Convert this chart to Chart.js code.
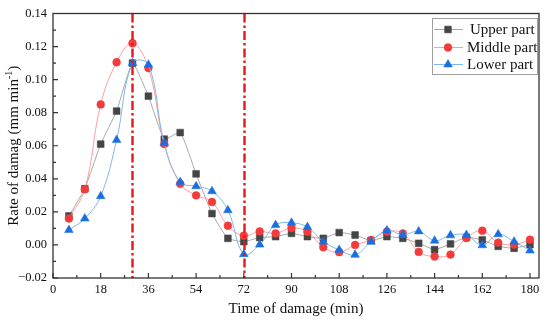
<!DOCTYPE html>
<html>
<head>
<meta charset="utf-8">
<script src="https://cdn.jsdelivr.net/npm/chart.js@4/dist/chart.umd.min.js"></script>
<style>
  html, body { margin: 0; padding: 0; background: #fff; }
  #wrap { width: 550px; height: 324px; }
</style>
</head>
<body>
<div id="wrap"><canvas id="c" width="550" height="324"></canvas></div>
<script>
// ---- data ----
const times = [6,12,18,24,30,36,42,48,54,60,66,72,78,84,90,96,102,108,114,120,126,132,138,144,150,156,162,168,174,180];
const upperPart = [0.0175,0.034,0.061,0.081,0.110,0.090,0.064,0.068,0.043,0.019,0.004,0.002,0.0045,0.005,0.007,0.005,0.004,0.0075,0.006,0.0026,0.005,0.004,0.001,-0.0028,0.0006,0.0046,0.003,-0.0008,-0.002,0.0002];
const middlePart = [0.016,0.0337,0.085,0.1105,0.122,0.107,0.061,0.037,0.030,0.026,0.0116,0.0056,0.0082,0.007,0.0102,0.008,-0.0014,-0.0044,0.0,0.003,0.008,0.007,-0.0042,-0.007,-0.0058,0.0042,0.0086,0.0014,0.0002,0.0032];
const lowerPart = [0.009,0.016,0.0295,0.0635,0.110,0.109,0.0615,0.038,0.0355,0.0325,0.021,-0.0056,0.0002,0.012,0.0134,0.0108,0.002,-0.003,-0.006,0.002,0.0088,0.006,0.0082,0.0026,0.0058,0.006,-0.0002,0.0064,0.002,-0.0034];
const seriesNames = ['Upper part','Middle part','Lower part'];
const xTickLabels = [0,18,36,54,72,90,108,126,144,162,180];
const yTickLabels = [-0.02,0.00,0.02,0.04,0.06,0.08,0.10,0.12,0.14];
const refLines = [30, 72];
const xTitle = 'Time of damage (min)';
const yTitleMain = 'Rate of damag (mm min';
const yTitleSup = '-1';
const yTitleEnd = ')';

const FONT = "'Liberation Serif', 'Times New Roman', serif";
Chart.defaults.font.family = FONT;

const styles = [
  {marker:'#454545', line:'#a8a8a8', pointStyle:'rect', radius:4.8, tension:0.15},
  {marker:'#f43b3b', line:'#ff9e9e', pointStyle:'circle', radius:3.9, tension:0.4},
  {marker:'#1a6fe0', line:'#80b6ee', pointStyle:'triangle', radius:5, tension:0.4}
];
const seriesData = [upperPart, middlePart, lowerPart];

const datasets = seriesData.map((arr, i) => ({
  label: seriesNames[i],
  data: arr.map((v, j) => ({x: times[j], y: v})),
  borderColor: styles[i].line,
  borderWidth: 1,
  backgroundColor: styles[i].marker,
  pointBackgroundColor: styles[i].marker,
  pointBorderColor: styles[i].marker,
  pointBorderWidth: 0.5,
  pointStyle: styles[i].pointStyle,
  pointRadius: styles[i].radius,
  pointHoverRadius: styles[i].radius,
  tension: styles[i].tension,
  order: 3 - i
}));

const decor = {
  id: 'decor',
  afterDatasetsDraw(chart) {
    const ctx = chart.ctx, xs = chart.scales.x, a = chart.chartArea;
    ctx.save();
    ctx.strokeStyle = '#e8161b';
    ctx.lineWidth = 2.4;
    ctx.setLineDash([9, 3, 2.5, 3]);
    refLines.forEach(v => {
      const px = Math.round(xs.getPixelForValue(v)) + 0.5;
      ctx.beginPath(); ctx.moveTo(px, a.top); ctx.lineTo(px, a.bottom); ctx.stroke();
    });
    ctx.setLineDash([]);
    ctx.restore();
  },
  afterDraw(chart) {
    const ctx = chart.ctx, xs = chart.scales.x, ys = chart.scales.y, a = chart.chartArea;
    ctx.save();
    ctx.strokeStyle = '#333';
    ctx.lineWidth = 1.3;
    ctx.strokeRect(a.left, a.top, a.right - a.left, a.bottom - a.top);
    ctx.lineWidth = 1.2;
    ctx.beginPath();
    for (let i = 0; i < xTickLabels.length; i++) {
      const v = xTickLabels[i];
      const px = xs.getPixelForValue(v);
      ctx.moveTo(px, a.bottom); ctx.lineTo(px, a.bottom - 5);
      if (i < xTickLabels.length - 1) {
        const m = xs.getPixelForValue((v + xTickLabels[i+1]) / 2);
        ctx.moveTo(m, a.bottom); ctx.lineTo(m, a.bottom - 3);
      }
    }
    for (let i = 0; i < yTickLabels.length; i++) {
      const v = yTickLabels[i];
      const py = ys.getPixelForValue(v);
      ctx.moveTo(a.left, py); ctx.lineTo(a.left + 5, py);
      if (i < yTickLabels.length - 1) {
        const m = ys.getPixelForValue((v + yTickLabels[i+1]) / 2);
        ctx.moveTo(a.left, m); ctx.lineTo(a.left + 3, m);
      }
    }
    ctx.stroke();

    // legend
    ctx.strokeStyle = '#a0a0a0';
    ctx.lineWidth = 1;
    ctx.strokeRect(432.5, 18.5, 105, 56);
    const rowsY = [29, 47, 64];
    const textX = [470, 467, 467];
    ctx.font = '15px ' + FONT;
    ctx.textBaseline = 'middle';
    ctx.textAlign = 'left';
    for (let i = 0; i < 3; i++) {
      const y = rowsY[i];
      ctx.strokeStyle = styles[i].line;
      ctx.lineWidth = 1;
      ctx.beginPath(); ctx.moveTo(434, y + 0.5); ctx.lineTo(463, y + 0.5); ctx.stroke();
      ctx.fillStyle = styles[i].marker;
      ctx.strokeStyle = styles[i].marker;
      ctx.lineWidth = 0.5;
      Chart.helpers.drawPoint(ctx, {pointStyle: styles[i].pointStyle, radius: styles[i].radius, rotation: 0, borderWidth: 0.5}, 448, y + 0.5);
      ctx.fillStyle = '#111';
      ctx.fillText(seriesNames[i], textX[i], y + 1);
    }

    // y title with superscript
    ctx.save();
    ctx.translate(14, (a.top + a.bottom) / 2);
    ctx.rotate(-Math.PI / 2);
    const mainFont = '15px ' + FONT, supFont = '10px ' + FONT;
    ctx.font = mainFont; const w1 = ctx.measureText(yTitleMain).width; const w3 = ctx.measureText(yTitleEnd).width;
    ctx.font = supFont; const w2 = ctx.measureText(yTitleSup).width;
    let x0 = -(w1 + w2 + w3) / 2;
    ctx.fillStyle = '#111';
    ctx.textBaseline = 'middle';
    ctx.font = mainFont; ctx.fillText(yTitleMain, x0, 0);
    ctx.font = supFont; ctx.fillText(yTitleSup, x0 + w1, -5);
    ctx.font = mainFont; ctx.fillText(yTitleEnd, x0 + w1 + w2, 0);
    ctx.restore();

    ctx.restore();
  }
};

new Chart(document.getElementById('c'), {
  type: 'line',
  data: { datasets },
  options: {
    responsive: false,
    animation: false,
    events: [],
    layout: { padding: { top: 10, right: 11, left: 0, bottom: 0 } },
    plugins: { legend: { display: false }, tooltip: { enabled: false } },
    scales: {
      x: {
        type: 'linear',
        min: 0, max: 183.4,
        grid: { display: false, drawTicks: false },
        border: { display: false },
        afterFit(s) { s.height = 46; },
        afterBuildTicks(s) { s.ticks = xTickLabels.map(v => ({value: v})); },
        ticks: { padding: 4, color: '#111', font: { size: 12.5 }, maxRotation: 0, autoSkip: false, callback: v => String(v) },
        title: { display: true, text: xTitle, color: '#111', font: { size: 15 }, padding: { top: 0, bottom: 6 } }
      },
      y: {
        min: -0.02, max: 0.14,
        grid: { display: false, drawTicks: false },
        border: { display: false },
        afterFit(s) { s.width = 53; },
        afterBuildTicks(s) { s.ticks = yTickLabels.map(v => ({value: v})); },
        ticks: { padding: 6, color: '#111', font: { size: 12.5 }, autoSkip: false,
          callback: v => (v < 0 ? '\u2212' + Math.abs(v).toFixed(2) : v.toFixed(2)) }
      }
    }
  },
  plugins: [decor]
});
</script>
</body>
</html>
